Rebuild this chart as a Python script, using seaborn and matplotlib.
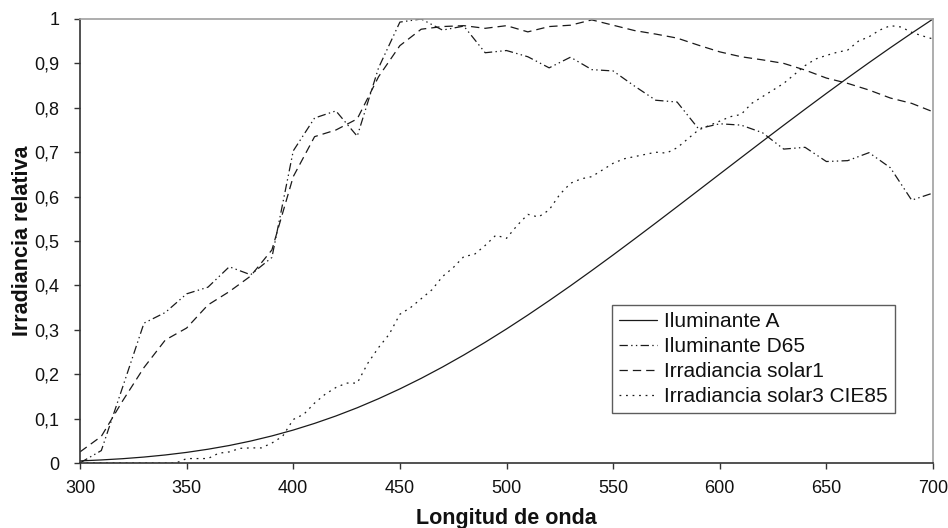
import matplotlib
matplotlib.use("Agg")
import matplotlib.pyplot as plt
import seaborn as sns
import numpy as np
import pandas as pd

# ---- data ----
wl_10 = list(range(300, 701, 10))
wl_5 = list(range(300, 701, 5))

iluminante_a = [0.0047, 0.0069, 0.0097, 0.0134, 0.0181, 0.0239, 0.0310, 0.0394, 0.0494, 0.0610,
                0.0742, 0.0892, 0.1059, 0.1244, 0.1448, 0.1669, 0.1907, 0.2162, 0.2433, 0.2719,
                0.3019, 0.3332, 0.3657, 0.3991, 0.4335, 0.4686, 0.5044, 0.5406, 0.5772, 0.6140,
                0.6509, 0.6877, 0.7244, 0.7608, 0.7968, 0.8324, 0.8674, 0.9017, 0.9353, 0.9681, 1.0]

iluminante_d65 = [0.0003, 0.028, 0.171, 0.315, 0.339, 0.381, 0.396, 0.442, 0.424, 0.463,
                  0.703, 0.777, 0.793, 0.736, 0.890, 0.993, 1.000, 0.975, 0.984, 0.924,
                  0.929, 0.915, 0.890, 0.914, 0.886, 0.883, 0.849, 0.817, 0.813, 0.753,
                  0.764, 0.761, 0.744, 0.707, 0.711, 0.679, 0.681, 0.699, 0.665, 0.592, 0.608]

irradiancia_solar1 = [0.025, 0.060, 0.140, 0.215, 0.277, 0.304, 0.356, 0.386, 0.421, 0.480,
                      0.645, 0.735, 0.750, 0.775, 0.870, 0.940, 0.977, 0.983, 0.985, 0.979,
                      0.985, 0.971, 0.983, 0.986, 0.998, 0.986, 0.974, 0.966, 0.957, 0.941,
                      0.926, 0.915, 0.908, 0.900, 0.885, 0.867, 0.855, 0.840, 0.822, 0.810, 0.791]

irradiancia_solar3 = [0.0, 0.0, 0.0, 0.0, 0.0, 0.0, 0.0, 0.0, 0.0, 0.0,
                      0.010, 0.010, 0.010, 0.022, 0.025, 0.033, 0.034, 0.034, 0.045, 0.060,
                      0.098, 0.110, 0.135, 0.155, 0.170, 0.180, 0.180, 0.225, 0.260, 0.290,
                      0.335, 0.350, 0.370, 0.390, 0.420, 0.440, 0.465, 0.470, 0.490, 0.513,
                      0.506, 0.535, 0.560, 0.554, 0.570, 0.605, 0.630, 0.640, 0.645, 0.660,
                      0.675, 0.685, 0.690, 0.695, 0.700, 0.698, 0.710, 0.730, 0.750, 0.760,
                      0.770, 0.780, 0.785, 0.810, 0.825, 0.840, 0.855, 0.875, 0.895, 0.910,
                      0.918, 0.925, 0.930, 0.950, 0.960, 0.975, 0.985, 0.982, 0.970, 0.962, 0.955]

series_labels = ["Iluminante A", "Iluminante D65", "Irradiancia solar1", "Irradiancia solar3 CIE85"]
x_ticks = [300, 350, 400, 450, 500, 550, 600, 650, 700]
y_ticks = [0, 0.1, 0.2, 0.3, 0.4, 0.5, 0.6, 0.7, 0.8, 0.9, 1.0]
y_tick_labels = ["0", "0,1", "0,2", "0,3", "0,4", "0,5", "0,6", "0,7", "0,8", "0,9", "1"]
x_label = "Longitud de onda"
y_label = "Irradiancia relativa"

# ---- style ----
sns.set_style("white")
plt.rcParams["font.family"] = ["Liberation Sans", "DejaVu Sans"]
plt.rcParams["lines.scale_dashes"] = False

fig = plt.figure(figsize=(9.48, 5.28), dpi=100)
ax = fig.add_axes([80 / 948, 65 / 528, 853 / 948, 444 / 528])

ink = "#1a1a1a"
lw = 0.9
styles = [
    "-",
    (0, (6.0, 2.4, 1.0, 2.4, 1.0, 2.4)),
    (0, (6.0, 3.6)),
    (0, (1.3, 3.4)),
]
xs = [wl_10, wl_10, wl_10, wl_5]
ys = [iluminante_a, iluminante_d65, irradiancia_solar1, irradiancia_solar3]

for x, y, ls, lab in zip(xs, ys, styles, series_labels):
    df = pd.DataFrame({"wl": x, "val": y})
    sns.lineplot(data=df, x="wl", y="val", ax=ax, color=ink, linewidth=lw,
                 linestyle=ls, label=lab, errorbar=None)

ax.set_xlim(300, 700)
ax.set_ylim(0, 1)
ax.set_xticks(x_ticks)
ax.set_xticklabels([str(t) for t in x_ticks])
ax.set_yticks(y_ticks)
ax.set_yticklabels(y_tick_labels)

ax.tick_params(axis="both", which="major", direction="out", length=4, width=1,
               color="#333333", labelsize=13, labelcolor="#111111")
ax.tick_params(axis="x", pad=8)
ax.tick_params(axis="y", pad=11)
ax.tick_params(top=False, right=False, bottom=True, left=True)

for side in ["left", "bottom"]:
    ax.spines[side].set_color("#333333")
    ax.spines[side].set_linewidth(1.2)
for side in ["top", "right"]:
    ax.spines[side].set_color("#a0a0a0")
    ax.spines[side].set_linewidth(1.2)

ax.set_xlabel(x_label, fontsize=15.5, fontweight="bold", labelpad=8, color="#111111")
ax.set_ylabel(y_label, fontsize=15.5, fontweight="bold", labelpad=1, color="#111111")

leg = ax.legend(loc="upper left", bbox_to_anchor=((612 - 80) / 853, (463 - 305) / 444),
                borderaxespad=0, frameon=True, fancybox=False, fontsize=15,
                handlelength=1.83, handletextpad=0.33, labelspacing=0.28,
                borderpad=0.35)
leg.get_frame().set_edgecolor("#333333")
leg.get_frame().set_linewidth(1.0)
for t in leg.get_texts():
    t.set_color("#111111")

fig.savefig("out.png", dpi=100)
